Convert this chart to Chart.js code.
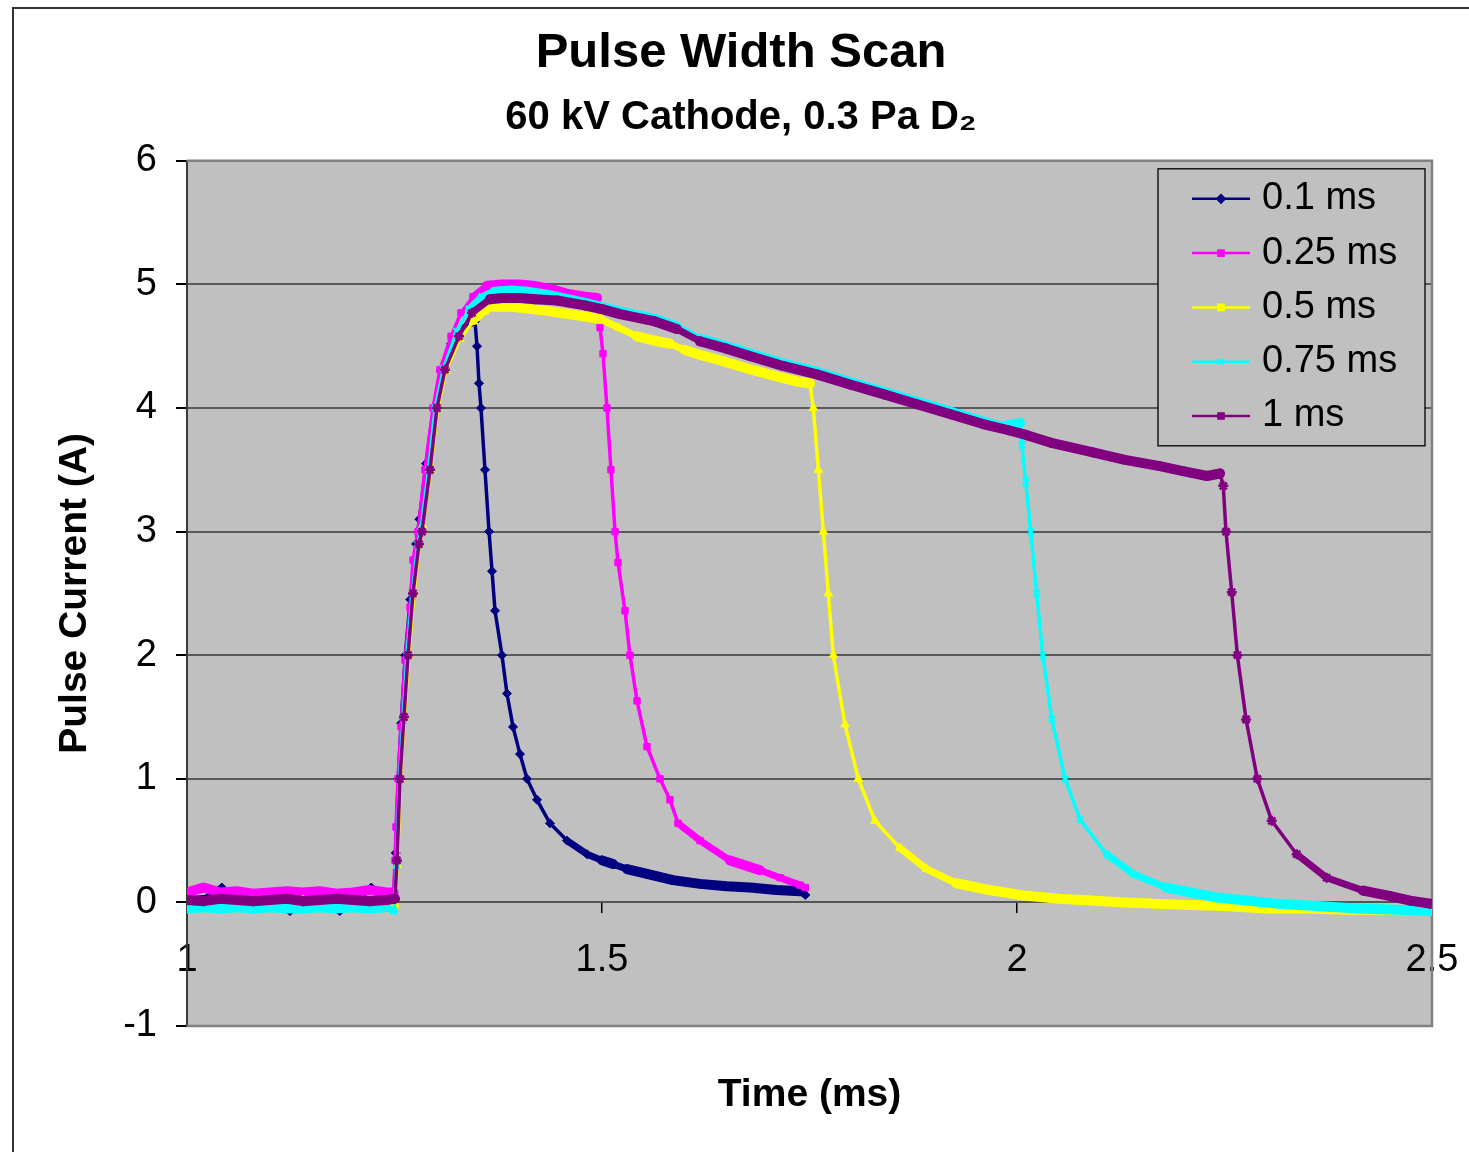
<!DOCTYPE html>
<html>
<head>
<meta charset="utf-8">
<script src="https://cdn.jsdelivr.net/npm/chart.js@4.4.1/dist/chart.umd.min.js"></script>
<style>
  html, body { margin: 0; padding: 0; background: #fff; overflow: hidden; }
  #wrap { position: relative; width: 1469px; height: 1152px; }
  #frame { position: absolute; left: 12px; top: 7px; width: 1600px; height: 1300px; border: 2px solid #333; pointer-events: none; }
  canvas { position: absolute; left: 0; top: 0; }
</style>
</head>
<body>
<div id="wrap">
  <canvas id="c" width="1469" height="1152"></canvas>
  <div id="frame"></div>
</div>
<script>
// ---- Data (time in ms, current in A) ----
const seriesLabels = ['0.1 ms', '0.25 ms', '0.5 ms', '0.75 ms', '1 ms'];
const xTickValues = [1, 1.5, 2, 2.5];

const t01 = [1.000,1.020,1.042,1.060,1.080,1.100,1.124,1.140,1.160,1.184,1.200,1.222,1.240,1.249,1.2515,1.2545,1.258,1.263,1.269,1.276,1.280,1.288,1.297,1.306,1.318,1.330,1.340,1.347,1.3494,1.3518,1.3542,1.359,1.3639,1.3675,1.3711,1.3795,1.3855,1.3928,1.4012,1.4096,1.4217,1.4373,1.4578,1.4819,1.500,1.5133,1.530,1.5542,1.5855,1.6181,1.650,1.6783,1.710,1.7386,1.745];
const i01 = [0.01,0.02,0.12,0.01,0.00,0.02,-0.07,0.00,0.01,-0.07,0.01,0.12,0.03,0.02,0.40,1.00,1.45,2.00,2.45,2.90,3.10,3.55,4.00,4.30,4.52,4.63,4.68,4.70,4.50,4.20,4.00,3.50,3.00,2.68,2.36,2.00,1.69,1.42,1.20,1.00,0.83,0.64,0.50,0.39,0.34,0.31,0.27,0.23,0.18,0.15,0.13,0.12,0.10,0.09,0.06];

const t025 = [1.000,1.020,1.040,1.060,1.080,1.100,1.120,1.140,1.160,1.180,1.200,1.220,1.240,1.249,1.2506,1.2518,1.2542,1.2578,1.2627,1.2687,1.2723,1.2783,1.2867,1.2964,1.3048,1.3181,1.3301,1.3446,1.3614,1.380,1.400,1.4169,1.440,1.460,1.480,1.494,1.4976,1.5012,1.506,1.5108,1.5157,1.5193,1.5277,1.5337,1.5422,1.5542,1.5699,1.5819,1.5916,1.6181,1.6542,1.6904,1.7145,1.7386,1.745];
const i025 = [0.08,0.12,0.08,0.09,0.07,0.08,0.09,0.08,0.09,0.07,0.08,0.10,0.08,0.08,0.34,0.61,1.00,1.42,1.96,2.39,2.77,3.00,3.50,4.00,4.31,4.58,4.77,4.90,4.99,5.00,5.00,4.99,4.96,4.92,4.90,4.89,4.65,4.44,4.00,3.50,3.00,2.75,2.36,2.00,1.63,1.26,1.00,0.83,0.64,0.50,0.34,0.26,0.20,0.14,0.12];

const t05 = [1.000,1.020,1.040,1.060,1.080,1.100,1.120,1.140,1.160,1.180,1.200,1.220,1.240,1.2495,1.2535,1.257,1.262,1.267,1.2735,1.280,1.284,1.2935,1.302,1.312,1.329,1.345,1.358,1.3687,1.390,1.4133,1.430,1.4494,1.470,1.4976,1.520,1.5422,1.560,1.5819,1.600,1.618,1.640,1.660,1.680,1.7024,1.720,1.7386,1.7506,1.7546,1.7607,1.7667,1.7727,1.7787,1.7928,1.8088,1.8289,1.859,1.891,1.927,1.967,2.008,2.050,2.088,2.130,2.200,2.250,2.300,2.350,2.400,2.450,2.500];
const i05 = [-0.03,-0.04,-0.02,-0.04,-0.02,-0.03,-0.04,0.02,-0.03,-0.04,-0.02,-0.03,-0.04,-0.03,0.30,1.00,1.50,2.00,2.50,2.90,3.05,3.50,4.00,4.30,4.56,4.70,4.78,4.82,4.82,4.80,4.79,4.77,4.75,4.72,4.65,4.58,4.55,4.52,4.47,4.43,4.39,4.35,4.31,4.27,4.24,4.21,4.20,4.00,3.50,3.00,2.50,2.00,1.44,1.00,0.66,0.44,0.27,0.155,0.10,0.056,0.03,0.015,0.00,-0.02,-0.03,-0.05,-0.05,-0.06,-0.06,-0.06];

const t075 = [1.000,1.020,1.040,1.060,1.080,1.100,1.120,1.140,1.160,1.180,1.200,1.220,1.240,1.2495,1.2525,1.256,1.2605,1.265,1.2715,1.278,1.2815,1.291,1.299,1.309,1.325,1.340,1.355,1.370,1.390,1.410,1.430,1.446,1.4795,1.5217,1.5639,1.590,1.618,1.650,1.678,1.718,1.760,1.7988,1.840,1.8795,1.920,1.959,1.980,2.0036,2.006,2.0105,2.0165,2.0237,2.031,2.042,2.058,2.076,2.108,2.140,2.180,2.240,2.313,2.360,2.410,2.460,2.500];
const i075 = [-0.05,-0.04,-0.05,-0.04,-0.05,-0.04,-0.05,-0.05,-0.04,-0.05,-0.04,-0.05,-0.04,-0.07,0.30,1.00,1.50,2.00,2.50,2.90,3.00,3.50,4.00,4.32,4.62,4.80,4.90,4.94,4.95,4.94,4.92,4.90,4.85,4.78,4.72,4.66,4.56,4.50,4.44,4.36,4.29,4.21,4.13,4.05,3.97,3.89,3.85,3.88,3.70,3.40,3.00,2.50,2.00,1.48,1.00,0.67,0.39,0.23,0.12,0.04,-0.01,-0.03,-0.05,-0.06,-0.07];

const t1 = [1.000,1.020,1.040,1.060,1.080,1.100,1.120,1.140,1.160,1.180,1.200,1.220,1.240,1.2505,1.253,1.2566,1.2614,1.2663,1.2723,1.2795,1.2831,1.2928,1.3012,1.3108,1.3277,1.3434,1.365,1.380,1.401,1.420,1.446,1.4795,1.500,1.5217,1.5639,1.590,1.618,1.650,1.678,1.718,1.760,1.7988,1.840,1.8795,1.920,1.959,1.990,2.012,2.040,2.0916,2.130,2.172,2.200,2.229,2.2446,2.2485,2.2518,2.2587,2.2655,2.276,2.2895,2.3069,2.337,2.373,2.417,2.450,2.4735,2.4976];
const i1 = [0.02,0.01,0.03,0.02,0.01,0.02,0.03,0.01,0.02,0.03,0.02,0.01,0.02,0.03,0.34,1.00,1.50,2.00,2.50,2.90,3.00,3.50,4.00,4.31,4.58,4.77,4.88,4.89,4.89,4.88,4.87,4.83,4.80,4.76,4.70,4.64,4.54,4.48,4.42,4.34,4.27,4.19,4.11,4.03,3.95,3.87,3.82,3.78,3.72,3.64,3.58,3.53,3.49,3.45,3.47,3.37,3.00,2.51,2.00,1.48,1.00,0.66,0.39,0.20,0.095,0.05,0.014,-0.01];

// ---- Styles ----
const FONT = '"Liberation Sans", Arial, Helvetica, sans-serif';
Chart.defaults.font.family = FONT;
Chart.defaults.color = '#000';

const colors = ['#000080', '#FF00FF', '#FFFF00', '#00FFFF', '#800080'];
const markers = ['rectRot', 'rect', 'triangle', 'crossRot', 'star'];
const legendMarkers = ['rectRot', 'rect', 'rect', 'crossRot', 'rect'];
const markerRadius = [4.5, 4.5, 5, 4.5, 5];
const drawOrder = [5, 4, 3, 2, 1];

const xs = [t01, t025, t05, t075, t1];
const ys = [i01, i025, i05, i075, i1];

function toPoints(tArr, iArr) {
  return tArr.map((t, k) => ({ x: t, y: iArr[k] }));
}

// thicker trace on nearly flat (noisy) parts, thinner on steep parts
function segWidth(ctx) {
  const dx = Math.abs(ctx.p1.x - ctx.p0.x);
  const dy = Math.abs(ctx.p1.y - ctx.p0.y);
  const s = dy / Math.max(dx, 0.001);
  return s < 0.35 ? 10 : (s < 1 ? 7 : 3.5);
}

const datasets = seriesLabels.map((lab, k) => ({
  label: lab,
  data: toPoints(xs[k], ys[k]),
  borderColor: colors[k],
  backgroundColor: colors[k],
  pointBackgroundColor: colors[k],
  pointBorderColor: colors[k],
  pointStyle: markers[k],
  pointRadius: markerRadius[k],
  pointBorderWidth: (markers[k] === 'crossRot' || markers[k] === 'star') ? 2.5 : 1,
  borderWidth: 3,
  borderJoinStyle: 'round',
  borderCapStyle: 'round',
  tension: 0,
  fill: false,
  order: drawOrder[k],
  segment: { borderWidth: segWidth }
}));

const plotArea = {
  id: 'plotArea',
  beforeDraw(chart) {
    const { ctx, chartArea: a } = chart;
    ctx.save();
    ctx.fillStyle = '#C0C0C0';
    ctx.fillRect(a.left, a.top, a.right - a.left, a.bottom - a.top);
    ctx.restore();
  },
  beforeDatasetsDraw(chart) {
    const { ctx, chartArea: a } = chart;
    ctx.save();
    ctx.strokeStyle = '#808080';
    ctx.lineWidth = 2.5;
    ctx.beginPath();
    ctx.moveTo(a.left, a.top);
    ctx.lineTo(a.right, a.top);
    ctx.lineTo(a.right, a.bottom);
    ctx.lineTo(a.left, a.bottom);
    ctx.stroke();
    ctx.restore();
  }
};

const boxLegend = {
  id: 'boxLegend',
  afterDraw(chart) {
    const { ctx, chartArea: a } = chart;
    const w = 267, h = 277;
    const x0 = a.right - 274, y0 = a.top + 8;
    ctx.save();
    ctx.fillStyle = '#C0C0C0';
    ctx.fillRect(x0, y0, w, h);
    ctx.strokeStyle = '#000';
    ctx.lineWidth = 1.3;
    ctx.strokeRect(x0, y0, w, h);
    chart.data.datasets.forEach((ds, k) => {
      const yy = y0 + 30 + k * 54.3;
      ctx.strokeStyle = ds.borderColor;
      ctx.lineWidth = 2.5;
      ctx.beginPath();
      ctx.moveTo(x0 + 34, yy);
      ctx.lineTo(x0 + 92, yy);
      ctx.stroke();
      ctx.fillStyle = ds.borderColor;
      ctx.strokeStyle = ds.borderColor;
      ctx.lineWidth = 2;
      if (Chart.helpers && Chart.helpers.drawPoint) {
        Chart.helpers.drawPoint(ctx, { pointStyle: legendMarkers[k], radius: 4, borderWidth: 2, rotation: 0 }, x0 + 63, yy);
      } else {
        ctx.fillRect(x0 + 60, yy - 3, 6, 6);
      }
      ctx.fillStyle = '#000';
      ctx.font = '38px ' + FONT;
      ctx.textAlign = 'left';
      ctx.textBaseline = 'middle';
      ctx.fillText(ds.label, x0 + 104, yy);
    });
    ctx.restore();
  }
};

new Chart(document.getElementById('c'), {
  type: 'line',
  data: { datasets },
  plugins: [plotArea, boxLegend],
  options: {
    responsive: false,
    animation: false,
    events: [],
    layout: { padding: { left: 50, right: 37, top: 0, bottom: 0 } },
    plugins: {
      legend: { display: false },
      tooltip: { enabled: false },
      title: {
        display: true,
        text: 'Pulse Width Scan',
        color: '#000',
        font: { size: 49, weight: 'bold', family: FONT },
        padding: { top: 24, bottom: 0 }
      },
      subtitle: {
        display: true,
        text: '60 kV Cathode, 0.3 Pa D\u2082',
        color: '#000',
        font: { size: 40, weight: 'bold', family: FONT },
        padding: { top: 11, bottom: 19 }
      }
    },
    scales: {
      x: {
        type: 'linear',
        position: { y: 0 },
        min: 1, max: 2.5,
        afterBuildTicks: s => { s.ticks = xTickValues.map(v => ({ value: v })); },
        afterFit: s => { s.paddingLeft = 0; s.paddingRight = 0; },
        ticks: {
          color: '#000',
          font: { size: 38, family: FONT },
          padding: 25,
          maxRotation: 0,
          autoSkip: false,
          callback: v => String(v)
        },
        grid: { drawOnChartArea: false, drawTicks: true, tickLength: 10, color: '#000', lineWidth: 1.5 },
        border: { display: true, color: '#555', width: 2 }
      },
      x2: {
        type: 'linear',
        position: 'bottom',
        min: 1, max: 2.5,
        ticks: { display: false },
        grid: { display: false },
        border: { display: false },
        title: {
          display: true,
          text: 'Time (ms)',
          color: '#000',
          font: { size: 39, weight: 'bold', family: FONT },
          padding: { top: 0, bottom: 33 }
        },
        afterFit: s => { s.height = 126; s.paddingLeft = 0; s.paddingRight = 0; }
      },
      y: {
        type: 'linear',
        position: 'left',
        min: -1, max: 6,
        ticks: {
          stepSize: 1,
          color: '#000',
          font: { size: 38, family: FONT },
          padding: 19,
          callback: v => String(v)
        },
        grid: { color: '#5a5a5a', lineWidth: 2, tickColor: '#000', tickLength: 11, drawTicks: true },
        border: { display: true, color: '#3a3a3a', width: 2 },
        title: {
          display: true,
          text: 'Pulse Current (A)',
          color: '#000',
          font: { size: 39, weight: 'bold', family: FONT },
          padding: { top: 2, bottom: 0 }
        },
        afterFit: s => { s.width = 137; }
      }
    }
  }
});
</script>
</body>
</html>
